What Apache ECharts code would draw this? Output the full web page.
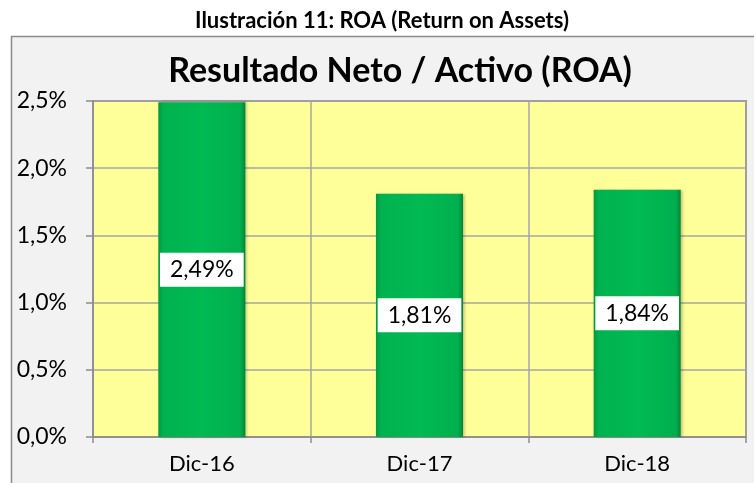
<!DOCTYPE html>
<html>
<head>
<meta charset="utf-8">
<script src="https://cdn.jsdelivr.net/npm/echarts@6/dist/echarts.min.js"></script>
<style>
  html, body { margin: 0; padding: 0; background: #fff; }
  #chart { width: 754px; height: 483px; }
</style>
</head>
<body>
<div id="chart"></div>
<script>
var categories = ['Dic-16', 'Dic-17', 'Dic-18'];
var roaValues = [2.49, 1.81, 1.84];
var yTicks = [0, 0.5, 1.0, 1.5, 2.0, 2.5];

var FONT = 'Lato';

function pct(v, digits){
	return v.toFixed(digits).replace('.', ',') + '%';
}

var chart = echarts.init(document.getElementById('chart'));

var option = {
	backgroundColor: '#ffffff',
	animation: false,
	graphic: [
		{
			type: 'rect',
			z: -10,
			shape: { x: 11.5, y: 36.5, width: 760, height: 460 },
			style: { fill: '#F2F2F2', stroke: '#8C8C8C', lineWidth: 1.5 }
		}
	],
	title: [
		{
			text: 'Ilustración 11: ROA (Return on Assets)',
			left: 377, top: 5, textAlign: 'center',
			textStyle: { fontFamily: FONT, fontWeight: 'bold', fontSize: 22, color: '#000' }
		},
		{
			text: 'Resultado Neto / Activo (ROA)',
			left: 395, top: 49, textAlign: 'center',
			textStyle: { fontFamily: FONT, fontWeight: 'bold', fontSize: 34, color: '#000' }
		}
	],
	grid: {
		left: 93, top: 101, right: 8, bottom: 46,
		show: true,
		backgroundColor: '#FFFF99',
		borderColor: '#8C8C8C',
		borderWidth: 2
	},
	xAxis: {
		type: 'category',
		data: categories,
		axisLine: { lineStyle: { color: '#8C8C8C', width: 1.5 } },
		axisTick: { show: true, length: 6, lineStyle: { color: '#8C8C8C', width: 1.5 } },
		splitLine: { show: true, lineStyle: { color: '#A6A6A6', width: 1.5 } },
		axisLabel: { fontFamily: FONT, fontSize: 22, color: '#000', margin: 16 }
	},
	yAxis: {
		type: 'value',
		min: yTicks[0],
		max: yTicks[yTicks.length - 1],
		interval: 0.5,
		axisLine: { show: true, lineStyle: { color: '#8C8C8C', width: 1.5 } },
		axisTick: { show: true, length: 7, lineStyle: { color: '#8C8C8C', width: 1.5 } },
		splitLine: { show: true, lineStyle: { color: '#A6A6A6', width: 1.5 } },
		axisLabel: {
			fontFamily: FONT, fontSize: 23, color: '#000', margin: 26,
			formatter: function(v){ return pct(v, 1); }
		}
	},
	series: [
		{
			type: 'bar',
			data: roaValues,
			barWidth: '40%',
			itemStyle: {
				color: new echarts.graphic.LinearGradient(0, 0, 1, 0, [
					{ offset: 0, color: '#009A3E' },
					{ offset: 0.06, color: '#00B24F' },
					{ offset: 0.5, color: '#00BA52' },
					{ offset: 0.94, color: '#00B04E' },
					{ offset: 1, color: '#00883A' }
				]),
				shadowColor: 'rgba(0,0,0,0.25)',
				shadowBlur: 3,
				shadowOffsetX: 2
			},
			label: {
				show: true,
				position: 'inside',
				formatter: function(p){ return pct(p.value, 2); },
				fontFamily: FONT,
				fontSize: 23,
				color: '#000',
				backgroundColor: '#ffffff',
				padding: [6, 10, 5, 10]
			}
		}
	]
};

chart.setOption(option);
</script>
</body>
</html>
